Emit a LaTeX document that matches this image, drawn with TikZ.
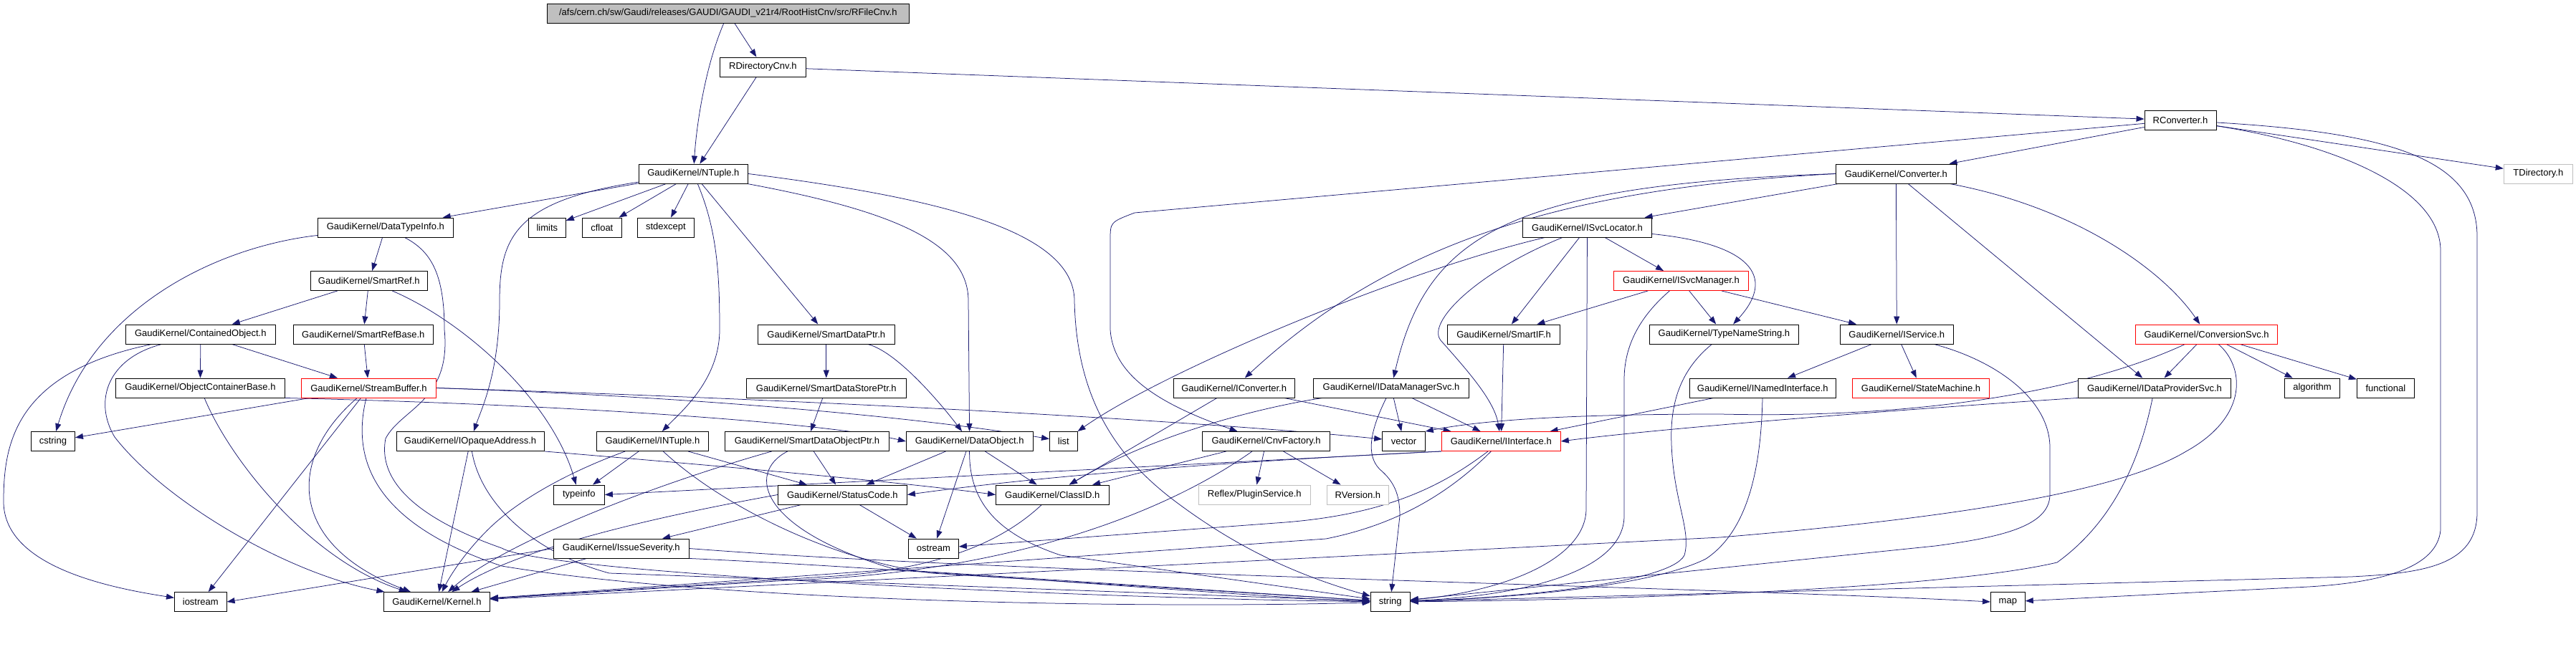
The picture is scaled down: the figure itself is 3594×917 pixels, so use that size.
\documentclass[tikz,border=0pt]{standalone}
\usepackage{fontspec}
\setmainfont{Liberation Sans}
\usetikzlibrary{arrows.meta}
\definecolor{edgec}{HTML}{191970}
\definecolor{grayc}{HTML}{BFBFBF}
\pgfdeclarelayer{bg}
\pgfsetlayers{bg,main}
\tikzset{
 nd/.style={draw=black, fill=white, line width=0.9pt, minimum height=27pt, inner sep=0pt, font=\fontsize{13}{15}\selectfont},
 rnd/.style={nd, draw=red},
 gnd/.style={nd, draw=grayc},
 topnd/.style={nd, fill=grayc},
 edg/.style={draw=edgec, line width=0.75pt, -{Triangle[length=11pt,width=8pt]}},
}
\begin{document}
\begin{tikzpicture}[x=1pt,y=-1pt]
\useasboundingbox (0,0) rectangle (3594,917);
\node[topnd, minimum width=505.5pt] (root) at (1015.8,18.5) {/afs/cern.ch/sw/Gaudi/releases/GAUDI/GAUDI\_v21r4/RootHistCnv/src/RFileCnv.h};
\node[nd, minimum width=119.8pt] (rdir) at (1064.4,93.5) {RDirectoryCnv.h};
\node[nd, minimum width=100pt] (rconv) at (3042,168) {RConverter.h};
\node[nd, minimum width=152.4pt] (ntuple) at (967.4,242.5) {GaudiKernel/NTuple.h};
\node[nd, minimum width=167.6pt] (conv) at (2645.3,242.5) {GaudiKernel/Converter.h};
\node[gnd, minimum width=96.2pt] (tdir) at (3541.3,242.5) {TDirectory.h};
\node[nd, minimum width=189.3pt] (dti) at (537.9,317.5) {GaudiKernel/DataTypeInfo.h};
\node[nd, minimum width=52pt] (limits) at (763.4,317.5) {limits};
\node[nd, minimum width=54.7pt] (cfloat) at (839.8,317.5) {cfloat};
\node[nd, minimum width=79.2pt] (stdexc) at (928.9,317.5) {stdexcept};
\node[nd, minimum width=179.9pt] (isvcloc) at (2214.5,317.5) {GaudiKernel/ISvcLocator.h};
\node[nd, minimum width=162.4pt] (sref) at (514.8,392) {GaudiKernel/SmartRef.h};
\node[rnd, minimum width=187.8pt] (isvcmgr) at (2345.5,392) {GaudiKernel/ISvcManager.h};
\node[nd, minimum width=208.9pt] (cobj) at (279.8,466.5) {GaudiKernel/ContainedObject.h};
\node[nd, minimum width=194.5pt] (srefb) at (506.8,466.5) {GaudiKernel/SmartRefBase.h};
\node[nd, minimum width=190.9pt] (sdp) at (1152.8,466.5) {GaudiKernel/SmartDataPtr.h};
\node[nd, minimum width=157.3pt] (sif) at (2098,466.5) {GaudiKernel/SmartIF.h};
\node[nd, minimum width=208.2pt] (tns) at (2405.4,466.5) {GaudiKernel/TypeNameString.h};
\node[nd, minimum width=158.1pt] (isvc) at (2646.3,466.5) {GaudiKernel/IService.h};
\node[rnd, minimum width=197.5pt] (convsvc) at (3078.6,466.5) {GaudiKernel/ConversionSvc.h};
\node[nd, minimum width=235.7pt] (ocb) at (279.4,541.5) {GaudiKernel/ObjectContainerBase.h};
\node[rnd, minimum width=187.8pt] (sbuf) at (514.5,541.5) {GaudiKernel/StreamBuffer.h};
\node[nd, minimum width=223pt] (sdsp) at (1152.8,541.5) {GaudiKernel/SmartDataStorePtr.h};
\node[nd, minimum width=168.6pt] (iconv) at (1721.7,541.5) {GaudiKernel/IConverter.h};
\node[nd, minimum width=217pt] (idms) at (1941,541.5) {GaudiKernel/IDataManagerSvc.h};
\node[nd, minimum width=204.5pt] (inamed) at (2459.3,541.5) {GaudiKernel/INamedInterface.h};
\node[rnd, minimum width=190.9pt] (sm) at (2680,541.5) {GaudiKernel/StateMachine.h};
\node[nd, minimum width=213.1pt] (idps) at (3006,541.5) {GaudiKernel/IDataProviderSvc.h};
\node[nd, minimum width=76.9pt] (algo) at (3226,541.5) {algorithm};
\node[nd, minimum width=79.9pt] (func) at (3328.3,541.5) {functional};
\node[nd, minimum width=61.3pt] (cstr) at (73.9,616) {cstring};
\node[nd, minimum width=206.2pt] (ioa) at (656.1,616) {GaudiKernel/IOpaqueAddress.h};
\node[nd, minimum width=156.1pt] (intuple) at (910.4,616) {GaudiKernel/INTuple.h};
\node[nd, minimum width=229.2pt] (sdop) at (1126,616) {GaudiKernel/SmartDataObjectPtr.h};
\node[nd, minimum width=176.8pt] (dobj) at (1352.7,616) {GaudiKernel/DataObject.h};
\node[nd, minimum width=38.7pt] (list) at (1483.8,616) {list};
\node[nd, minimum width=177.9pt] (cnvf) at (1766.6,616) {GaudiKernel/CnvFactory.h};
\node[nd, minimum width=59.7pt] (vec) at (1958.5,616) {vector};
\node[rnd, minimum width=166.1pt] (iif) at (2094.3,616) {GaudiKernel/IInterface.h};
\node[nd, minimum width=71.2pt] (tinfo) at (807.8,690.5) {typeinfo};
\node[nd, minimum width=180.1pt] (sc) at (1175.4,690.5) {GaudiKernel/StatusCode.h};
\node[nd, minimum width=157.7pt] (cid) at (1468.3,690.5) {GaudiKernel/ClassID.h};
\node[gnd, minimum width=156pt] (plug) at (1750.3,690.5) {Reflex/PluginService.h};
\node[gnd, minimum width=86.1pt] (rver) at (1894.4,690.5) {RVersion.h};
\node[nd, minimum width=189.1pt] (isev) at (866.8,765.5) {GaudiKernel/IssueSeverity.h};
\node[nd, minimum width=70pt] (ostr) at (1302.4,765.5) {ostream};
\node[nd, minimum width=72.7pt] (iostr) at (279.8,840) {iostream};
\node[nd, minimum width=148pt] (kern) at (609.4,840) {GaudiKernel/Kernel.h};
\node[nd, minimum width=55.1pt] (str) at (1939.7,840) {string};
\node[nd, minimum width=47.9pt] (map) at (2801.3,840) {map};

\begin{pgfonlayer}{bg}
\draw[edg] (root) .. controls (985,90) and (972,170) .. (ntuple);
\draw[edg] (root) -- (rdir);
\draw[edg] (rdir) -- (ntuple);
\draw[edg] (rdir) -- (rconv);
\draw[edg] (rconv) -- (conv);
\draw[edg] (rconv) -- (tdir);
\draw[edg] (rconv) -- (1583,297) .. controls (1549,310) .. (1549,335) -- (1549,460) .. controls (1553,525) and (1620,565) .. (cnvf);
\draw[edg] (rconv) .. controls (3330,185) and (3456,220) .. (3456,330) -- (3456,715) .. controls (3456,790) and (3380,800) .. (3280,805) -- (str);
\draw[edg] (rconv) .. controls (3250,200) and (3405,260) .. (3405,350) -- (3405,740) .. controls (3400,790) and (3330,815) .. (3200,820) -- (map);
\draw[edg] (conv.west) .. controls (2200,262) and (1950,330) .. (iconv);
\draw[edg] (conv.west) .. controls (2100,258) and (1990,330) .. (idms);
\draw[edg] (conv) -- (isvcloc);
\draw[edg] (conv) -- (isvc);
\draw[edg] (conv) -- (idps);
\draw[edg] (conv) .. controls (2900,290) and (3020,380) .. (convsvc);
\draw[edg] (ntuple) -- (dti);
\draw[edg] (ntuple) -- (limits);
\draw[edg] (ntuple) -- (cfloat);
\draw[edg] (ntuple) -- (stdexc);
\draw[edg] (ntuple) .. controls (720,280) and (697,330) .. (697,420) .. controls (697,520) and (672,570) .. (ioa);
\draw[edg] (ntuple) .. controls (1000,320) and (1004,380) .. (1004,460) .. controls (1004,530) and (950,575) .. (intuple);
\draw[edg] (ntuple) -- (sdp);
\draw[edg] (ntuple) .. controls (1250,295) and (1351,340) .. (1351,420) -- (dobj);
\draw[edg] (ntuple.east) .. controls (1300,275) and (1499,320) .. (1499,420) .. controls (1502,560) and (1560,640) .. (1640,700) .. controls (1720,760) and (1800,800) .. (str);
\draw[edg] (dti) -- (sref);
\draw[edg] (dti) .. controls (300,345) and (130,430) .. (cstr);
\draw[edg] (dti) .. controls (600,350) and (620,380) .. (620,460) .. controls (630,560) and (560,570) .. (538,612) .. controls (525,680) and (600,730) .. (700,765) .. controls (760,800) and (1500,835) .. (str);
\draw[edg] (sref) -- (cobj);
\draw[edg] (sref) -- (srefb);
\draw[edg] (sref) .. controls (650,450) and (770,560) .. (tinfo);
\draw[edg] (cobj) -- (ocb);
\draw[edg] (cobj) -- (sbuf);
\draw[edg] (cobj) .. controls (20,520) and (5,620) .. (5,700) .. controls (5,790) and (150,820) .. (iostr);
\draw[edg] (cobj) .. controls (150,500) and (130,560) .. (160,610) .. controls (230,700) and (400,800) .. (kern);
\draw[edg] (srefb) -- (sbuf);
\draw[edg] (ocb) .. controls (320,640) and (430,780) .. (kern);
\draw[edg] (ocb.south east) .. controls (800,565) and (1150,590) .. (dobj.west);
\draw[edg] (sbuf) -- (cstr);
\draw[edg] (sbuf) -- (iostr);
\draw[edg] (sbuf) .. controls (400,640) and (400,760) .. (kern);
\draw[edg] (sbuf) .. controls (490,640) and (520,730) .. (700,790) .. controls (1000,840) and (1600,850) .. (str);
\draw[edg] (sbuf.east) .. controls (1000,555) and (1300,585) .. (list);
\draw[edg] (sbuf.east) .. controls (1200,560) and (1700,590) .. (vec);
\draw[edg] (isvcloc) .. controls (1950,380) and (1620,520) .. (list);
\draw[edg] (isvcloc) .. controls (2060,380) and (1990,450) .. (2010,475) .. controls (2050,520) and (2085,560) .. (iif);
\draw[edg] (isvcloc) -- (sif);
\draw[edg] (isvcloc) -- (isvcmgr);
\draw[edg] (isvcloc) .. controls (2440,340) and (2480,385) .. (tns);
\draw[edg] (isvcloc) -- (2213,710) .. controls (2213,780) and (2100,825) .. (str);
\draw[edg] (isvcmgr) -- (sif);
\draw[edg] (isvcmgr) -- (tns);
\draw[edg] (isvcmgr) -- (isvc);
\draw[edg] (isvcmgr) .. controls (2290,440) and (2266,480) .. (2266,530) -- (2266,720) .. controls (2266,790) and (2150,830) .. (str);
\draw[edg] (sdp) -- (sdsp);
\draw[edg] (sdp) .. controls (1250,490) and (1310,560) .. (dobj);
\draw[edg] (sdsp) -- (sdop);
\draw[edg] (sif) -- (iif);
\draw[edg] (tns) .. controls (2340,520) and (2330,570) .. (2332,620) .. controls (2335,700) and (2360,740) .. (2350,775) .. controls (2330,815) and (2100,835) .. (str);
\draw[edg] (isvc) -- (inamed);
\draw[edg] (isvc) -- (sm);
\draw[edg] (isvc) .. controls (2790,505) and (2860,560) .. (2860,625) -- (2860,690) .. controls (2860,735) and (2790,750) .. (2700,762) -- (str);
\draw[edg] (convsvc) -- (idps);
\draw[edg] (convsvc) -- (algo);
\draw[edg] (convsvc) -- (func);
\draw[edg] (convsvc) .. controls (2920,540) and (2700,585) .. (2400,578) .. controls (2150,578) and (2050,590) .. (vec.north east);
\draw[edg] (convsvc) .. controls (3130,510) and (3140,580) .. (3050,630) .. controls (2950,690) and (2700,725) .. (2400,750) -- (kern);
\draw[edg] (inamed) -- (iif);
\draw[edg] (inamed) .. controls (2457,650) and (2440,740) .. (2380,780) .. controls (2300,820) and (2100,835) .. (str);
\draw[edg] (idps.south west) .. controls (2600,575) and (2300,600) .. (iif.east);
\draw[edg] (idps) .. controls (2990,620) and (2960,720) .. (2870,785) .. controls (2700,825) and (2200,838) .. (str);
\draw[edg] (idms) -- (vec);
\draw[edg] (idms) -- (iif);
\draw[edg] (idms) .. controls (1912,600) and (1905,635) .. (1925,655) .. controls (1945,672) and (1953,690) .. (1953,720) -- (str);
\draw[edg] (idms) .. controls (1780,565) and (1620,600) .. (cid);
\draw[edg] (iconv) -- (cid);
\draw[edg] (iconv) -- (iif);
\draw[edg] (cnvf) -- (cid);
\draw[edg] (cnvf) -- (plug);
\draw[edg] (cnvf) -- (rver);
\draw[edg] (cnvf) .. controls (1620,720) and (1400,800) .. (1100,810) -- (kern);
\draw[edg] (ioa.south east) .. controls (1000,650) and (1250,672) .. (cid.west);
\draw[edg] (ioa) -- (kern);
\draw[edg] (ioa) .. controls (670,700) and (740,770) .. (850,800) -- (str);
\draw[edg] (intuple) -- (tinfo);
\draw[edg] (intuple) .. controls (790,660) and (720,700) .. (680,740) .. controls (650,770) and (630,800) .. (kern);
\draw[edg] (intuple) -- (sc);
\draw[edg] (intuple) .. controls (1000,700) and (1150,780) .. (1300,800) -- (str);
\draw[edg] (sdop) -- (sc);
\draw[edg] (sdop) .. controls (900,680) and (700,760) .. (kern);
\draw[edg] (sdop) .. controls (1040,660) and (1060,740) .. (1250,795) -- (str);
\draw[edg] (dobj) -- (sc);
\draw[edg] (dobj) -- (cid);
\draw[edg] (dobj) -- (ostr);
\draw[edg] (dobj) .. controls (1352,700) and (1390,745) .. (1480,775) -- (str);
\draw[edg] (iif.south west) -- (tinfo.east);
\draw[edg] (iif.south west) .. controls (1700,645) and (1450,665) .. (sc.east);
\draw[edg] (iif) .. controls (2010,680) and (1930,720) .. (1780,730) -- (ostr);
\draw[edg] (iif) .. controls (2030,680) and (1960,730) .. (1850,752) -- (kern);
\draw[edg] (sc) -- (isev);
\draw[edg] (sc) -- (ostr);
\draw[edg] (sc.west) .. controls (950,715) and (730,760) .. (kern);
\draw[edg] (cid) .. controls (1410,745) and (1330,795) .. (1150,805) -- (kern);
\draw[edg] (isev) -- (kern);
\draw[edg] (isev.west) -- (iostr.east);
\draw[edg] (isev.east) .. controls (1400,800) and (2400,820) .. (map.west);
\draw[edg] (isev.south east) .. controls (1300,795) and (1700,830) .. (str.west);
\end{pgfonlayer}
\end{tikzpicture}
\end{document}
